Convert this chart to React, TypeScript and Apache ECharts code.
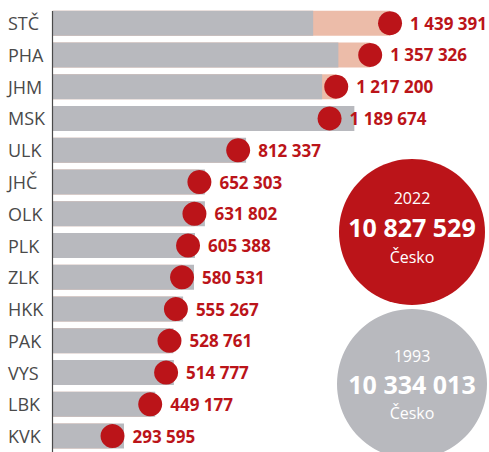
import React, { useEffect, useRef } from "react";
import * as echarts from "echarts";

const categories = ["STČ", "PHA", "JHM", "MSK", "ULK", "JHČ", "OLK", "PLK", "ZLK", "HKK", "PAK", "VYS", "LBK", "KVK"];
const values2022 = [1439391, 1357326, 1217200, 1189674, 812337, 652303, 631802, 605388, 580531, 555267, 528761, 514777, 449177, 293595];
const values1993 = [1122000, 1226000, 1159000, 1292000, 845000, 675000, 675000, 634000, 630000, 585000, 545000, 547000, 470000, 341000];
const total2022 = "10 827 529";
const total1993 = "10 334 013";
const year2022 = "2022";
const year1993 = "1993";
const countryLabel = "Česko";

const RED = "#bb1419";
const GREY = "#b8b9be";
const SALMON = "#ecbca9";

function fmt(v: number): string {
  return String(v).replace(/\B(?=(\d{3})+(?!\d))/g, " ");
}

export default function App() {
  const ref = useRef<HTMLDivElement>(null);
  useEffect(() => {
    if (!ref.current) return;
    const chart = echarts.init(ref.current, null, { renderer: "svg" });
    const font = "'Open Sans', 'Noto Sans', sans-serif";
    const txt = (x: number, y: number, text: string, f: string) => ({
      type: "text",
      x,
      y,
      z: 6,
      style: { text, fill: "#ffffff", font: f, textAlign: "center", textVerticalAlign: "middle" },
    });
    chart.setOption({
      animation: false,
      grid: { left: 52.5, width: 424.9, top: 7.3, height: 452.7 },
      xAxis: {
        type: "value",
        min: 45800,
        max: 1800000,
        show: false,
        splitLine: { show: false },
      },
      yAxis: {
        type: "category",
        data: categories,
        inverse: true,
        axisLine: { show: false },
        axisTick: { show: false },
        axisLabel: {
          align: "left",
          margin: 44.5,
          fontSize: 18,
          fontFamily: font,
          color: "#4a4a4a",
        },
      },
      series: [
        {
          type: "bar",
          data: values2022,
          barWidth: 25,
          barGap: "-100%",
          itemStyle: { color: SALMON },
          clip: true,
          z: 1,
          silent: true,
        },
        {
          type: "bar",
          data: values1993,
          barWidth: 25,
          barGap: "-100%",
          itemStyle: { color: GREY },
          clip: true,
          z: 2,
          silent: true,
        },
        {
          type: "scatter",
          data: values2022,
          symbol: "circle",
          symbolSize: 24,
          itemStyle: { color: RED, opacity: 1 },
          z: 3,
          label: {
            show: true,
            position: "right",
            distance: 8,
            formatter: (p: any) => fmt(p.value),
            color: RED,
            fontSize: 17,
            fontWeight: "bold",
            fontFamily: font,
          },
        },
      ],
      graphic: [
        { type: "line", shape: { x1: 52.5, y1: 11, x2: 52.5, y2: 452 }, style: { stroke: "#4a4a4a", lineWidth: 1.2 }, z: 10 },
        { type: "circle", shape: { cx: 412, cy: 232, r: 73 }, style: { fill: RED }, z: 5 },
        txt(412, 198, year2022, `16px ${font}`),
        txt(412, 227, total2022, `bold 25px ${font}`),
        txt(412, 257, countryLabel, `16px ${font}`),
        { type: "circle", shape: { cx: 412, cy: 384, r: 75 }, style: { fill: GREY }, z: 5 },
        txt(412, 356, year1993, `16px ${font}`),
        txt(412, 384, total1993, `bold 25px ${font}`),
        txt(412, 413, countryLabel, `16px ${font}`),
      ],
    });
    return () => chart.dispose();
  }, []);
  return <div ref={ref} style={{ position: "absolute", left: 0, top: 0, width: 489, height: 452 }} />;
}
